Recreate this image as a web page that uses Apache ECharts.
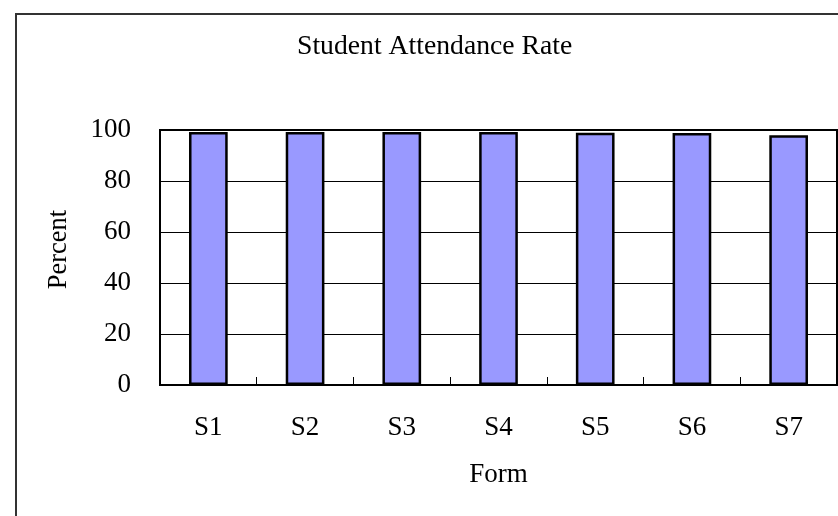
<!DOCTYPE html>
<html>
<head>
<meta charset="utf-8">
<script src="https://cdn.jsdelivr.net/npm/echarts@6/dist/echarts.min.js"></script>
<style>
html,body{margin:0;padding:0;background:#fff;}
#chart{width:838px;height:516px;}
</style>
</head>
<body>
<div id="chart"></div>
<script>
const categories = ['S1', 'S2', 'S3', 'S4', 'S5', 'S6', 'S7'];
const attendance = [99.2, 99.2, 99.2, 99.2, 98.9, 98.8, 97.9];
const yTicks = [0, 20, 40, 60, 80, 100];

const FONT = "'Liberation Serif', 'Times New Roman', serif";
const chart = echarts.init(document.getElementById('chart'), null, {renderer: 'canvas'});
chart.setOption({
  animation: false,
  backgroundColor: '#fff',
  graphic: [{
    type: 'rect',
    shape: {x: 16, y: 14, width: 900, height: 600},
    style: {fill: 'none', stroke: '#333', lineWidth: 2},
    silent: true,
    z: -1
  }],
  title: {
    text: 'Student Attendance Rate',
    left: 297,
    top: 33,
    padding: 0,
    textStyle: {fontFamily: FONT, fontSize: 27.7, fontWeight: 'normal', color: '#000'}
  },
  grid: {
    left: 160, top: 130, right: 1, bottom: 131,
    show: true, borderColor: '#000', borderWidth: 2, backgroundColor: 'transparent',
    containLabel: false
  },
  xAxis: {
    type: 'category',
    data: categories,
    name: 'Form',
    nameLocation: 'middle',
    nameGap: 76,
    nameTextStyle: {fontFamily: FONT, fontSize: 27, color: '#000'},
    axisLine: {show: true, lineStyle: {color: '#000', width: 2}},
    axisTick: {show: true, inside: true, length: 8, alignWithLabel: false, lineStyle: {color: '#000', width: 1}},
    axisLabel: {fontFamily: FONT, fontSize: 27, color: '#000', margin: 29},
    splitLine: {show: false}
  },
  yAxis: {
    type: 'value',
    min: yTicks[0],
    max: yTicks[yTicks.length - 1],
    interval: yTicks[1] - yTicks[0],
    name: 'Percent',
    nameLocation: 'middle',
    nameGap: 87,
    nameRotate: 90,
    nameTextStyle: {fontFamily: FONT, fontSize: 26.5, color: '#000', padding: [0, 0, 0, 16]},
    axisLine: {show: true, lineStyle: {color: '#000', width: 2}},
    axisTick: {show: false},
    axisLabel: {fontFamily: FONT, fontSize: 27, color: '#000', margin: 29},
    splitLine: {show: true, lineStyle: {color: '#000', width: 1}}
  },
  series: [{
    type: 'bar',
    data: attendance,
    barWidth: '40%',
    itemStyle: {color: '#9999FF', borderColor: '#000', borderWidth: 2.5}
  }]
});
</script>
</body>
</html>
